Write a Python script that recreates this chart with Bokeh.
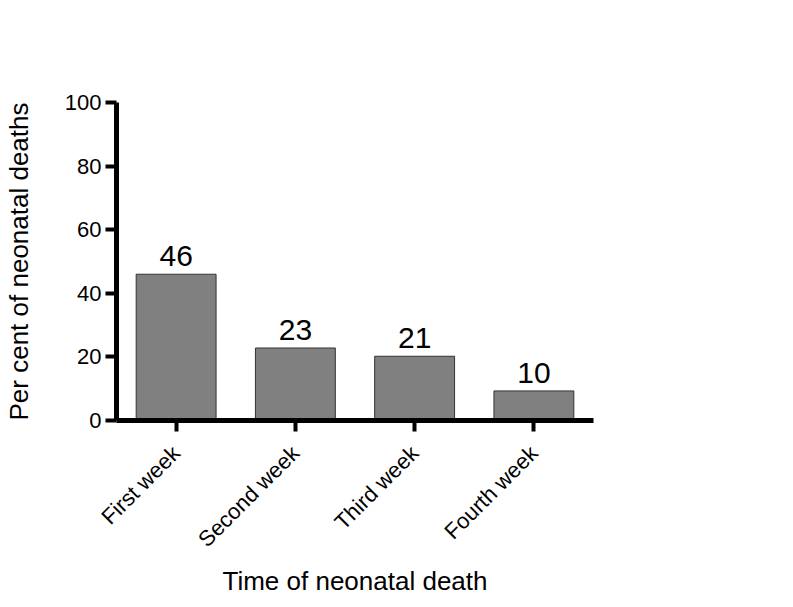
from math import pi
from bokeh.plotting import figure
from bokeh.models import ColumnDataSource, FactorRange, Range1d, FixedTicker, Label
from bokeh.core.properties import value
from bokeh.embed import file_html
from bokeh.resources import INLINE

title_text = "Time of neonatal deaths in Bonke, Southwest Ethiopia"
categories = ["First week", "Second week", "Third week", "Fourth week"]
percent = [46.0, 22.8, 20.2, 9.3]
bar_labels = ["46", "23", "21", "10"]
y_ticks = [0, 20, 40, 60, 80, 100]
x_title = "Time of neonatal death"
y_title = "Per cent of neonatal deaths"

FONT = "Liberation Sans"
FRAME_W, FRAME_H = 477, 318

src = ColumnDataSource(dict(cat=categories, pct=percent, lab=bar_labels))

p = figure(x_range=FactorRange(*categories), y_range=Range1d(0, 100),
           frame_width=FRAME_W, frame_height=FRAME_H,
           min_border_left=108, min_border_top=102,
           min_border_right=192, min_border_bottom=171,
           output_backend="svg", toolbar_location=None)

p.vbar(x="cat", top="pct", width=0.67, source=src,
       fill_color="#808080", line_color="#333333", line_width=1)

p.text(x="cat", y="pct", text="lab", source=src, text_align="center",
       text_baseline="alphabetic", y_offset=-18, text_font=value(FONT),
       text_font_size="30px", text_color="black")

# chart title, placed relative to the frame (screen units)
p.add_layout(Label(x=-63, y=FRAME_H + 80, x_units="screen", y_units="screen",
                   text=title_text, text_font=FONT, text_font_size="30px",
                   text_color="black", text_align="left",
                   text_baseline="alphabetic"))

p.xgrid.grid_line_color = None
p.ygrid.grid_line_color = None
p.outline_line_color = None

p.yaxis.ticker = FixedTicker(ticks=y_ticks)
for ax in (p.xaxis[0], p.yaxis[0]):
    ax.axis_line_width = 5
    ax.axis_line_color = "black"
    ax.major_tick_line_width = 4
    ax.major_tick_line_color = "black"
    ax.major_tick_in = 0
    ax.major_tick_out = 11
    ax.minor_tick_line_color = None
    ax.major_label_text_font = FONT
    ax.major_label_text_font_size = "22px"
    ax.major_label_text_color = "black"
    ax.axis_label_text_font = FONT
    ax.axis_label_text_font_size = "26px"
    ax.axis_label_text_font_style = "normal"
    ax.axis_label_text_color = "black"

p.xaxis.axis_label = x_title
p.yaxis.axis_label = y_title
p.xaxis.major_label_orientation = pi / 4
p.xaxis.major_label_standoff = 18
p.xaxis.axis_label_standoff = 2
p.yaxis.major_label_standoff = 4
p.yaxis.axis_label_standoff = 28

open("out.html", "w").write(file_html(p, INLINE))
